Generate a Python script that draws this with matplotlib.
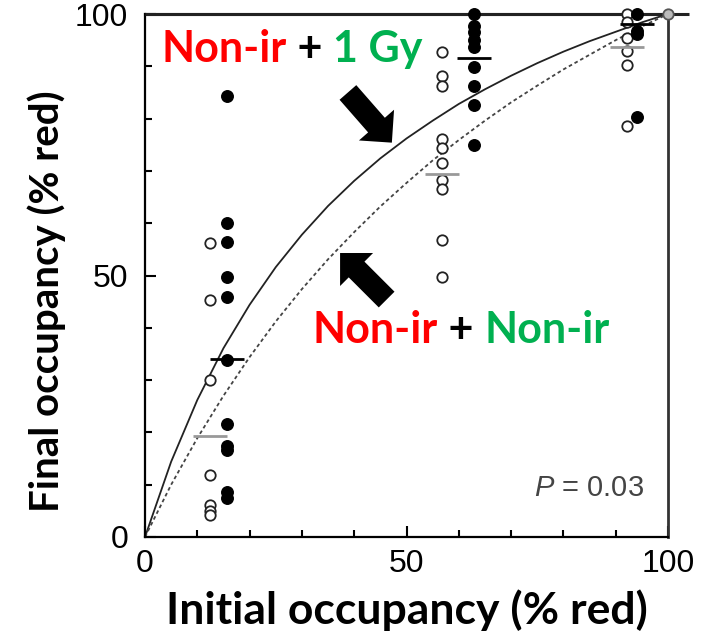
import matplotlib
matplotlib.use('Agg')
import matplotlib.pyplot as plt

# group positions on the x axis (initial occupancy, % red)
x_open = [12.4, 56.8, 92.2]
x_filled = [15.7, 62.9, 94.1]

# final occupancy of each replicate: open = Non-ir + Non-ir, filled = Non-ir + 1 Gy
open_vals = [
    [56.2, 45.4, 30.0, 11.8, 6.1, 4.9, 4.2],
    [92.8, 88.1, 86.2, 76.1, 74.3, 71.5, 68.3, 66.5, 56.8, 49.7],
    [100.0, 98.5, 95.5, 93.0, 90.3, 78.5],
]
filled_vals = [
    [84.3, 60.1, 56.5, 49.8, 45.8, 33.8, 21.6, 17.4, 16.6, 8.6, 7.5],
    [100.0, 97.8, 96.5, 95.0, 93.6, 89.8, 86.3, 82.6, 75.0],
    [100.0, 96.8, 96.2, 80.4],
]

# group means (horizontal bars)
open_means = [19.3, 69.4, 93.6]
filled_means = [34.0, 91.6, 98.0]

curve_x = [0, 5, 10, 15, 20, 25, 30, 35, 40, 45, 50, 55, 60, 65, 70, 75, 80, 85, 90, 95, 100]
curve_1gy = [0, 14.4, 26.2, 36.1, 44.4, 51.6, 57.8, 63.3, 68.1, 72.4, 76.2, 79.6,
             82.8, 85.6, 88.2, 90.6, 92.8, 94.8, 96.6, 98.4, 100]
curve_nonir = [0, 10.0, 18.9, 27.0, 34.4, 41.2, 47.4, 53.1, 58.3, 63.2, 67.7, 72.0,
               75.9, 79.6, 83.1, 86.3, 89.4, 92.2, 95.0, 97.6, 100]

RED = '#FF0000'
GREEN = '#00B050'
label_font = 'Lato'
tick_font = 'Liberation Sans'

plt.rcParams['mathtext.fontset'] = 'custom'
plt.rcParams['mathtext.rm'] = 'Liberation Sans'
plt.rcParams['mathtext.it'] = 'Liberation Sans:italic'

fig = plt.figure(figsize=(7.22, 6.34), dpi=100)
ax = fig.add_axes([145 / 722, 1 - 537 / 634, 523 / 722, 523 / 634])
ax.set_xlim(0, 100)
ax.set_ylim(0, 100)

# curves
ax.plot(curve_x, curve_1gy, color='#222222', lw=1.3, zorder=2)
ax.plot(curve_x, curve_nonir, color='#444444', lw=1.3, ls=(0, (2.0, 1.6)), zorder=2)

# replicate points
for xo, vals in zip(x_open, open_vals):
    ax.plot([xo] * len(vals), vals, 'o', ms=7.5, mfc='white', mec='#222222', mew=1.3,
            ls='none', zorder=4, clip_on=False)
for xf, vals in zip(x_filled, filled_vals):
    ax.plot([xf] * len(vals), vals, 'o', ms=8.3, mfc='black', mec='black',
            ls='none', zorder=5, clip_on=False)
ax.plot([100], [100], 'o', ms=7.5, mfc='#bbbbbb', mec='#555555', mew=1.3,
        zorder=5, clip_on=False)

# mean bars
for xo, m in zip(x_open, open_means):
    ax.plot([xo - 3.3, xo + 3.3], [m, m], color='#999999', lw=2.0, zorder=6,
            solid_capstyle='butt')
for xf, m in zip(x_filled, filled_means):
    ax.plot([xf - 3.3, xf + 3.3], [m, m], color='black', lw=2.0, zorder=6,
            solid_capstyle='butt')

# frame
for side in ['left', 'bottom']:
    ax.spines[side].set_linewidth(1.6)
ax.spines['right'].set_linewidth(2.0)
ax.spines['right'].set_color('#333333')
ax.spines['top'].set_linewidth(2.2)
ax.plot([0, 104], [100, 100], color='#222222', lw=2.2, clip_on=False, zorder=3,
        solid_capstyle='butt')

ax.set_xticks([0, 50, 100])
ax.set_yticks([0, 50, 100])
ax.set_xticks(range(0, 101, 10), minor=True)
ax.set_yticks(range(0, 101, 10), minor=True)
ax.tick_params(which='major', direction='in', length=8, width=1.5, pad=9,
               labelsize=23)
ax.tick_params(which='minor', direction='in', length=5, width=1.5)
ax.tick_params(axis='y', which='major', pad=12)
for lab in ax.get_xticklabels() + ax.get_yticklabels():
    lab.set_fontfamily(tick_font)

ax.set_xlabel('Initial occupancy (% red)', fontfamily=label_font, fontweight='bold',
              fontsize=32, labelpad=7)
ax.set_ylabel('Final occupancy (% red)', fontfamily=label_font, fontweight='bold',
              fontsize=29)
ax.yaxis.set_label_coords(-0.152, 0.45)


# multi-coloured label built from pieces placed one after another
def rainbow(x, y, parts, size):
    t = ax.text(x, y, parts[0][0], color=parts[0][1], fontsize=size,
                fontfamily=label_font, fontweight='bold', va='baseline', zorder=7)
    for s, c in parts[1:]:
        t = ax.annotate(s, xy=(1, 0), xycoords=t, color=c, fontsize=size,
                        fontfamily=label_font, fontweight='bold', va='bottom',
                        zorder=7)


rainbow(3.2, 90.8, [('Non-ir', RED), (' + ', 'black'), ('1 Gy', GREEN)], 31)
rainbow(32.1, 37.1, [('Non-ir', RED), (' + ', 'black'), ('Non-ir', GREEN)], 31)

# arrows pointing at the two curves
arrow_style = 'simple,head_length=1.05,head_width=2.1,tail_width=1.0'
ax.annotate('', xy=(47.2, 75.4), xytext=(38.8, 85.0),
            arrowprops=dict(arrowstyle=arrow_style, fc='black', ec='none',
                            mutation_scale=16, shrinkA=0, shrinkB=0), zorder=7)
ax.annotate('', xy=(37.3, 54.3), xytext=(46.2, 45.4),
            arrowprops=dict(arrowstyle=arrow_style, fc='black', ec='none',
                            mutation_scale=16, shrinkA=0, shrinkB=0), zorder=7)

ax.text(95.5, 9.4, '$P$ = 0.03', ha='right', va='center', fontsize=21,
        color='#444444', fontfamily=tick_font)

fig.savefig('out.png', dpi=100)
